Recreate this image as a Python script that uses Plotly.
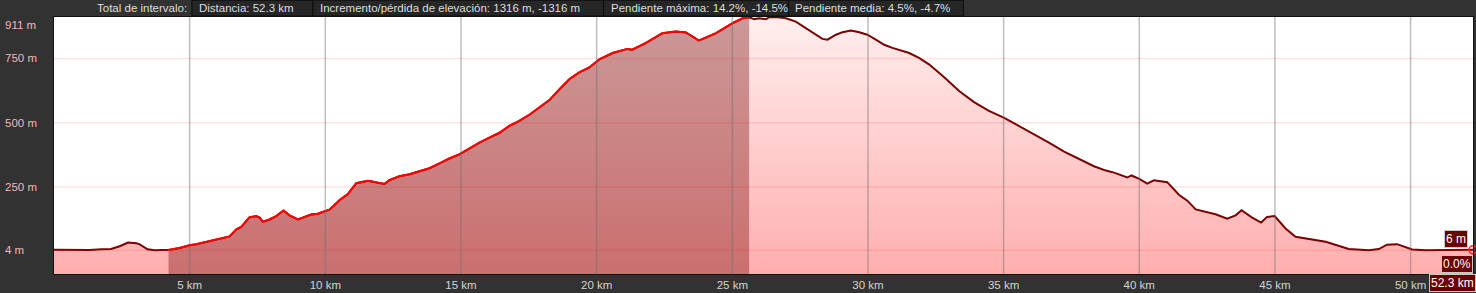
import numpy as np
import plotly.graph_objects as go

# ---- data ----
km = [0.0, 0.45, 0.85, 1.3, 1.75, 2.1, 2.42, 2.73, 3.03, 3.16, 3.45, 3.71, 4.0, 4.26,
      4.63, 5.0, 5.24, 5.73, 6.10, 6.47, 6.72, 6.90, 7.21, 7.45, 7.58, 7.70, 7.94, 8.19,
      8.46, 8.68, 8.99, 9.17, 9.48, 9.72, 9.97, 10.15, 10.30, 10.52, 10.83, 11.14, 11.57,
      11.87, 12.18, 12.36, 12.73, 13.10, 13.47, 13.84, 14.21, 14.57, 14.94, 15.31, 15.68,
      16.05, 16.42, 16.78, 17.15, 17.52, 17.89, 18.26, 18.63, 18.99, 19.36, 19.73, 20.10,
      20.59, 21.13, 21.31, 21.82, 22.42, 22.92, 23.29, 23.76, 23.89, 24.40, 25.01, 25.38,
      25.62, 25.81, 25.99, 26.24, 26.36, 26.61, 26.98, 27.34, 27.71, 28.02, 28.32, 28.51,
      28.82, 29.06, 29.37, 29.68, 29.98, 30.29, 30.60, 30.90, 31.15, 31.52, 31.88, 32.25,
      32.81, 33.36, 33.91, 34.46, 35.02, 35.57, 36.12, 36.67, 37.23, 37.78, 38.33, 38.77,
      39.07, 39.56, 39.71, 40.0, 40.29, 40.54, 41.03, 41.46, 41.77, 42.08, 42.45, 42.81,
      43.24, 43.55, 43.77, 44.16, 44.49, 44.71, 44.99, 45.39, 45.76, 46.87, 47.72, 48.46,
      48.83, 49.13, 49.50, 50.06, 50.55, 51.29, 52.3]
elev = [6, 5, 4, 5, 8, 9, 20, 34, 32, 27, 8, 4, 5, 6,
        13, 24, 28, 39, 47, 58, 86, 95, 133, 137, 131, 115, 124, 137,
        159, 140, 124, 131, 143, 146, 157, 162, 176, 199, 223, 265, 274,
        269, 262, 277, 292, 300, 311, 323, 342, 361, 377, 400, 423,
        442, 461, 488, 507, 531, 561, 588, 630, 669, 696, 715, 746,
        771, 787, 784, 810, 848, 855, 851, 820, 825, 848, 887, 906,
        910, 902, 906, 902, 910, 911, 906, 893, 868, 848, 826, 823,
        842, 852, 858, 852, 842, 823, 803, 791, 784, 771, 752, 727,
        677, 623, 580, 546, 519, 488, 457, 423, 388, 361, 331, 314,
        306, 287, 295, 282, 263, 276, 269, 220, 197, 163, 154, 144,
        127, 140, 160, 131, 112, 134, 137, 89, 57, 37, 9, 4,
        9, 26, 28, 7, 4, 4, 6]

SEL_START, SEL_END = 4.22, 25.62
Y_MIN, Y_MAX = -88, 911
X_MAX = 52.3
x_ticks = [5, 10, 15, 20, 25, 30, 35, 40, 45, 50]
x_tick_text = [f"{v} km" for v in x_ticks]
y_ticks = [4, 250, 500, 750, 911]
y_tick_text = [f"{v} m" for v in y_ticks]

header_label = "Total de intervalo:"
header_items = ["Distancia: 52.3 km",
                "Incremento/pérdida de elevación: 1316 m, -1316 m",
                "Pendiente máxima: 14.2%, -14.5%",
                "Pendiente media: 4.5%, -4.7%"]
cursor_elev = "6 m"
cursor_slope = "0.0%"
cursor_dist = "52.3 km"

# ---- layout geometry ----
W, H = 1476, 293
L, R, T, B = 54, 2, 17, 16
PW, PH = W - L - R, H - T - B


def px(xp):
    return (xp - L) / PW


def py(yp):
    return (H - B - yp) / PH


FONT = "Liberation Sans, Arial, sans-serif"

kma = np.array(km, float)
ela = np.array(elev, float)

# selection subset
mask = (kma > SEL_START) & (kma < SEL_END)
sx = np.concatenate([[SEL_START], kma[mask], [SEL_END]])
sy = np.concatenate([[np.interp(SEL_START, kma, ela)], ela[mask], [np.interp(SEL_END, kma, ela)]])

fig = go.Figure()

# full area with vertical gradient
fig.add_trace(go.Scatter(
    x=np.concatenate([[kma[0]], kma, [kma[-1]]]),
    y=np.concatenate([[Y_MIN], ela, [Y_MIN]]),
    fill="toself", mode="none", hoverinfo="skip",
    fillgradient=dict(type="vertical", start=Y_MIN, stop=Y_MAX,
                      colorscale=[[0, "#ffadad"], [1, "#ffeeee"]]),
))
# selection overlay
fig.add_trace(go.Scatter(
    x=np.concatenate([[sx[0]], sx, [sx[-1]]]),
    y=np.concatenate([[Y_MIN], sy, [Y_MIN]]),
    fill="toself", mode="none", fillcolor="rgba(110,0,0,0.36)", hoverinfo="skip",
))
# profile lines
fig.add_trace(go.Scatter(x=kma, y=ela, mode="lines",
                         line=dict(color="#7a0000", width=2), hoverinfo="skip"))
fig.add_trace(go.Scatter(x=sx, y=sy, mode="lines",
                         line=dict(color="#ff0000", width=2), hoverinfo="skip"))
fig.add_trace(go.Scatter(x=[kma[-1]], y=[ela[-1]], mode="markers", cliponaxis=False,
                         marker=dict(symbol="circle-open", color="#ff2020", size=8,
                                     line=dict(width=1.5)), hoverinfo="skip"))

shapes = []
for v in y_ticks[:-1]:
    shapes.append(dict(type="line", xref="x", yref="y", x0=0, x1=X_MAX, y0=v, y1=v,
                       line=dict(color="rgba(255,0,0,0.11)", width=1.5), layer="above"))
for v in x_ticks:
    shapes.append(dict(type="line", xref="x", yref="paper", x0=v, x1=v, y0=0, y1=1,
                       line=dict(color="rgba(110,110,110,0.45)", width=1.5), layer="above"))

annotations = []
# y tick labels, left aligned
for v, t in zip(y_ticks, y_tick_text):
    annotations.append(dict(text=t, x=px(3), xref="paper", y=v, yref="y",
                            xanchor="left", yanchor="top" if v == Y_MAX else "middle",
                            showarrow=False, font=dict(family=FONT, size=11.5, color="#f2b6b6")))

# header
annotations.append(dict(text=header_label, x=px(189), xref="paper", y=py(8), yref="paper",
                        xanchor="right", yanchor="middle", showarrow=False,
                        font=dict(family=FONT, size=11.5, color="#dedede")))
box_edges = [192, 313, 604, 789, 964]
for i, t in enumerate(header_items):
    x0, x1 = box_edges[i], box_edges[i + 1]
    shapes.append(dict(type="rect", xref="paper", yref="paper",
                       x0=px(x0), x1=px(x1), y0=py(16), y1=py(0),
                       fillcolor="#262626", line=dict(color="#0c0c0c", width=1), layer="above"))
    annotations.append(dict(text=t, x=px(x0 + 5), xref="paper", y=py(8), yref="paper",
                            xanchor="left", yanchor="middle", showarrow=False,
                            font=dict(family=FONT, size=11.5, color="#dedede")))

# cursor readouts
for t, cx, cy in [(cursor_elev, 1457, 242), (cursor_slope, 1458, 267), (cursor_dist, 1453, 286)]:
    annotations.append(dict(text=t, x=px(cx), xref="paper", y=py(cy), yref="paper",
                            xanchor="center", yanchor="middle", showarrow=False,
                            bgcolor="#6a0000", bordercolor="#c8c8c8", borderwidth=1, borderpad=1,
                            font=dict(family=FONT, size=12, color="#ffffff")))

fig.update_layout(
    width=W, height=H, autosize=False,
    margin=dict(l=L, r=R, t=T, b=B, pad=0),
    paper_bgcolor="#323232", plot_bgcolor="#ffffff",
    showlegend=False,
    shapes=shapes, annotations=annotations,
    xaxis=dict(range=[0, X_MAX], showgrid=False, zeroline=False,
               tickvals=x_ticks, ticktext=x_tick_text, ticks="", ticklen=0,
               tickfont=dict(family=FONT, size=11.5, color="#d4d4d4"),
               showline=True, mirror=True, linecolor="#111111", linewidth=1),
    yaxis=dict(range=[Y_MIN, Y_MAX], showgrid=False, zeroline=False,
               showticklabels=False, ticks="",
               showline=True, mirror=True, linecolor="#111111", linewidth=1),
)

fig.write_html("out.html")
